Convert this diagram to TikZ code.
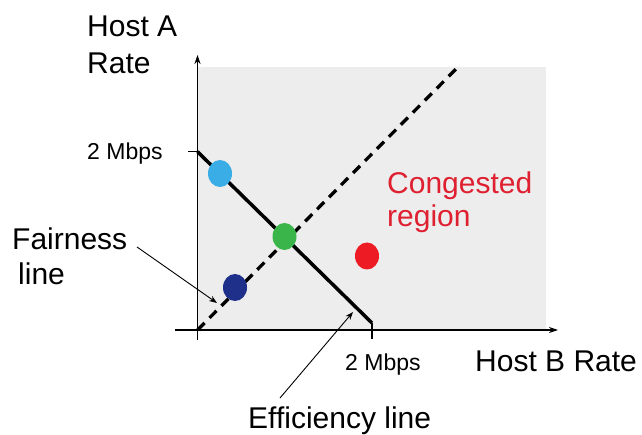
\documentclass[tikz,border=0pt]{standalone}
\usepackage{fontspec}
\setmainfont{Liberation Sans}
\usetikzlibrary{arrows.meta,shapes.geometric}
\definecolor{regiongray}{RGB}{237,237,237}
\definecolor{dotlight}{RGB}{58,172,230}
\definecolor{dotgreen}{RGB}{57,181,74}
\definecolor{dotred}{RGB}{237,28,36}
\definecolor{dotnavy}{RGB}{30,48,138}
\definecolor{congred}{RGB}{222,32,48}
\begin{document}
\begin{tikzpicture}[x=1pt,y=-1pt,
  lbl/.style={anchor=base west, inner sep=0pt, font=\fontsize{30}{36}\selectfont},
  smalllbl/.style={anchor=base west, inner sep=0pt, font=\fontsize{23}{28}\selectfont},
  axisline/.style={line width=1.2pt, -{Stealth[length=9pt,width=6pt]}},
  tickline/.style={line width=1.2pt},
  dotmark/.style={ellipse, minimum width=24pt, minimum height=27pt, inner sep=0pt},
  pointer/.style={line width=0.9pt, -{Stealth[length=8pt,width=6pt]}}
]
\useasboundingbox (0,0) rectangle (642,435);
% congested region
\fill[regiongray] (198,67) rectangle (546,330);
% axes
\coordinate (ybot) at (197.5,340);
\coordinate (ytop) at (197.5,55);
\coordinate (xleft) at (175,330);
\coordinate (xright) at (558,330);
\draw[axisline] (ybot) -- (ytop);
\draw[axisline] (xleft) -- (xright);
% ticks
\coordinate (ytickL) at (188,151.7);
\coordinate (yA) at (197.5,151.7);
\coordinate (xB) at (372,323);
\coordinate (xtickB) at (372,339);
\draw[tickline] (ytickL) -- (yA);
\draw[tickline] (xB) -- (xtickB);
% fairness line (dashed)
\coordinate (origin) at (197.5,330);
\coordinate (fairend) at (457,68);
\draw[line width=3.3pt, dash pattern=on 10pt off 7pt] (origin) -- (fairend);
% efficiency line
\draw[line width=3.5pt] (yA) -- (xB);
% dots
\node[dotmark, fill=dotlight] (pLight) at (220,173.5) {};
\node[dotmark, fill=dotgreen] (pGreen) at (284.5,236.5) {};
\node[dotmark, fill=dotred] (pRed) at (367,256) {};
\node[dotmark, fill=dotnavy] (pNavy) at (235,287.5) {};
% texts
\node[lbl] (hostA) at (87,36.5) {Host A};
\node[lbl] (rateA) at (87,74) {Rate};
\node[smalllbl] (mbpsA) at (87,160) {2 Mbps};
\node[smalllbl] (mbpsB) at (345,370) {2 Mbps};
\node[lbl] (hostB) at (475,371.5) {Host B Rate};
\node[lbl, text=congred] (cong1) at (387,194) {Congested};
\node[lbl, text=congred] (cong2) at (387,227) {region};
\node[lbl] (fair1) at (12,250) {Fairness};
\node[lbl] (fair2) at (18,285) {line};
\node[lbl] (eff) at (248,428) {Efficiency line};
% pointers
\coordinate (fairstart) at (137,247);
\coordinate (fairtip) at (217,303);
\coordinate (effstart) at (280,398);
\coordinate (efftip) at (353,312);
\draw[pointer] (fairstart) -- (fairtip);
\draw[pointer] (effstart) -- (efftip);
\end{tikzpicture}
\end{document}
